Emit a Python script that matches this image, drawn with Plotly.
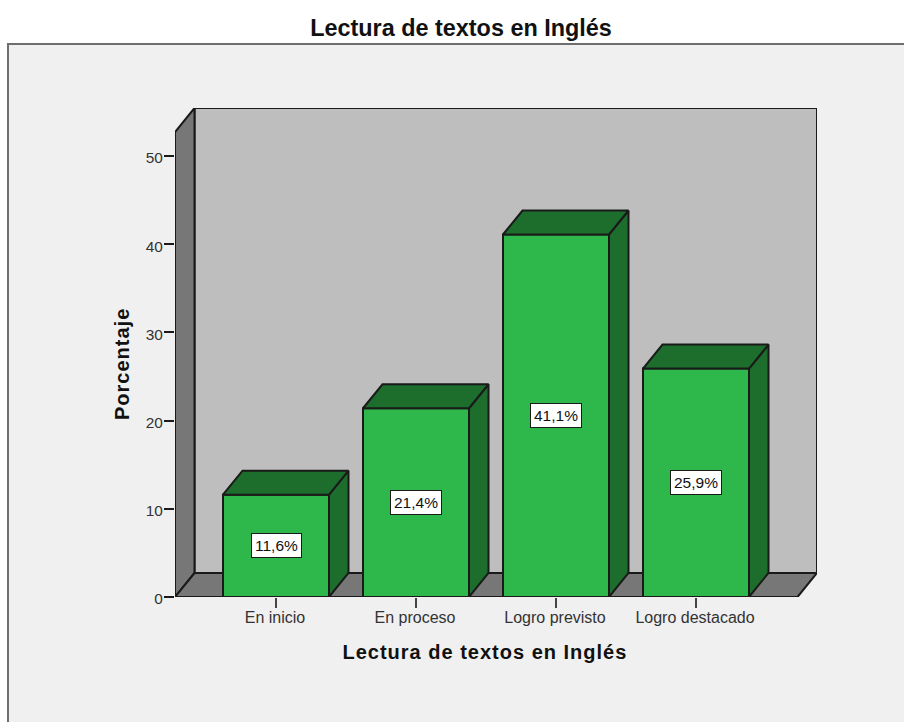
import plotly.graph_objects as go

categories = ["En inicio", "En proceso", "Logro previsto", "Logro destacado"]
values = [11.6, 21.4, 41.1, 25.9]
labels = ["11,6%", "21,4%", "41,1%", "25,9%"]
y_ticks = [0, 10, 20, 30, 40, 50]
title_text = "Lectura de textos en Inglés"
y_title = "Porcentaje"

GREEN = "#2EB84B"
DARK = "#1D6E2D"
WALL = "#BEBEBE"
SIDE = "#777777"
INK = "#1A1A1A"
FONT = "Liberation Sans"

# plot frame in px
L, R, T, B = 175, 817, 108, 597
W, H = 904, 722
px_x, px_y = 140.0, 8.82
xmin = -(276 - L) / px_x
xmax = xmin + (R - L) / px_x
ymax = (B - T) / px_y
dx, dy = 19.5 / px_x, 24 / px_y       # depth vector
wall_top = ymax - dy
xfront = xmax - dx
half = 53 / px_x
LW = 2


def poly(xs, ys, color):
    return go.Scatter(x=xs + xs[:1], y=ys + ys[:1], mode="lines", fill="toself",
                      fillcolor=color, line=dict(color=INK, width=LW),
                      hoverinfo="skip", showlegend=False, cliponaxis=False)


def wall(xs, ys, color):
    path = "M" + " L".join(f"{a},{b}" for a, b in zip(xs, ys)) + " Z"
    return dict(type="path", path=path, xref="x", yref="y", layer="below",
                fillcolor=color, line=dict(color=INK, width=LW))


fig = go.Figure()
# front faces
fig.add_trace(go.Bar(x=list(range(len(values))), y=values, width=2 * half,
                     marker=dict(color=GREEN, line=dict(color=INK, width=LW)),
                     hoverinfo="skip", showlegend=False))
# side and top faces
for i, v in enumerate(values):
    fig.add_trace(poly([i + half, i + half + dx, i + half + dx, i + half], [0, dy, v + dy, v], DARK))
    fig.add_trace(poly([i - half, i + half, i + half + dx, i - half + dx], [v, v, v + dy, v + dy], DARK))
for i, (v, lab) in enumerate(zip(values, labels)):
    fig.add_annotation(x=i, y=v / 2, text=lab, showarrow=False, bgcolor="white",
                       bordercolor=INK, borderwidth=1, borderpad=3,
                       font=dict(family=FONT, size=15.5, color="#111111"))

fig.add_annotation(xref="paper", yref="paper", x=(485 - L) / (R - L), y=(B - 652) / (B - T),
                   xanchor="center", yanchor="middle",
                   text=title_text, showarrow=False,
                   font=dict(family=FONT, size=20, color="#111111", weight=700))
fig.add_annotation(xref="paper", yref="paper", x=(122 - L) / (R - L), y=(B - 364) / (B - T),
                   xanchor="center", yanchor="middle",
                   text=y_title, textangle=-90, showarrow=False,
                   font=dict(family=FONT, size=20, color="#111111", weight=700))

fig.update_layout(
    width=W, height=H, autosize=False,
    margin=dict(l=L, r=W - R, t=T, b=H - B, pad=0),
    paper_bgcolor="white", plot_bgcolor="rgba(0,0,0,0)",
    showlegend=False,
    font=dict(family=FONT, color=INK),
    title=dict(text=title_text, x=461 / W, xanchor="center", y=1 - 28 / H, yanchor="middle",
               font=dict(family=FONT, size=23.4, color="#111111", weight=700)),
    xaxis=dict(range=[xmin, xmax], tickmode="array", tickvals=list(range(len(categories))),
               ticktext=categories, ticks="outside", ticklen=10, tickwidth=2, tickcolor="#444444",
               showgrid=False, zeroline=False, showline=False,
               ticklabelstandoff=-4, ticklabelshift=-1,
               tickfont=dict(family=FONT, size=16, color="#333333")),
    yaxis=dict(range=[0, ymax], tickmode="array", tickvals=y_ticks,
               ticks="outside", ticklen=10, tickwidth=2, tickcolor=INK,
               showgrid=False, zeroline=False, showline=False,
               ticklabelstandoff=-2, ticklabelshift=2,
               tickfont=dict(family=FONT, size=15.4, color="#333333")),
    shapes=[
        dict(type="rect", xref="paper", yref="paper", layer="below",
             x0=(8 - L) / (R - L), x1=(W + 5 - L) / (R - L),
             y0=(B - H - 5) / (B - T), y1=(B - 44) / (B - T),
             fillcolor="#F0F0F0", line=dict(color="#6E6E6E", width=2)),
        wall([xmin + dx, xmax, xmax, xmin + dx], [dy, dy, ymax, ymax], WALL),
        wall([xmin, xmin + dx, xmin + dx, xmin], [0, dy, ymax, wall_top], SIDE),
        wall([xmin, xfront, xmax, xmin + dx], [0, 0, dy, dy], SIDE),
    ],
)
post = """
document.body.style.margin='0';
document.querySelectorAll('.annotation-text').forEach(function(t){
  if (t.textContent === 'Porcentaje' || t.textContent.indexOf('Lectura') === 0) {
    t.style.letterSpacing = '1px';
  }
});
"""
fig.write_html("out.html", post_script=post, config={"displayModeBar": False})
